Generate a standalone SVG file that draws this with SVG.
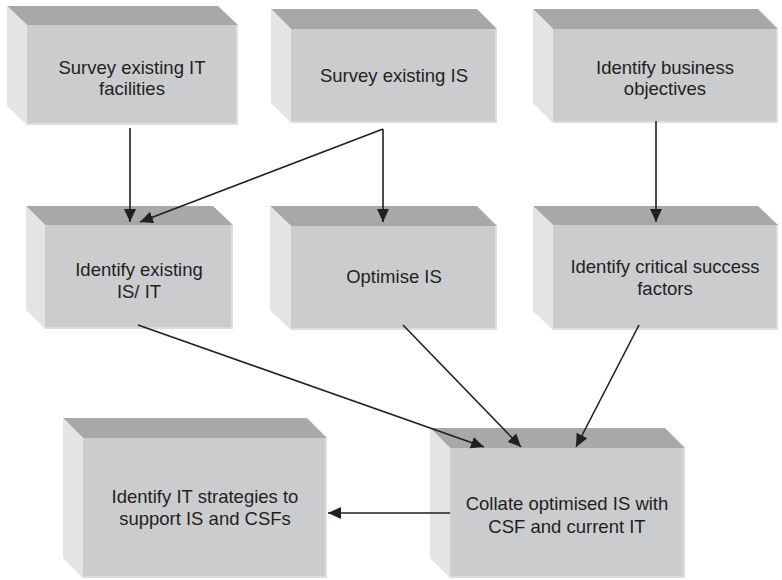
<svg xmlns="http://www.w3.org/2000/svg" width="782" height="580" viewBox="0 0 782 580">
  <defs>
    <marker id="arrow" markerUnits="userSpaceOnUse" markerWidth="14" markerHeight="12" refX="13" refY="6" orient="auto">
      <path d="M0,0 L13,6 L0,12 z" fill="#231f20"/>
    </marker>
  </defs>
  <style>
    .top { fill: #a7a8aa; }
    .side { fill: #e3e4e6; }
    .front { fill: #cbcccd; }
    .edge { fill: none; stroke: #dcdddf; stroke-width: 2; }
    .label { font-family: "Liberation Sans", Arial, sans-serif; font-size: 18.5px; fill: #231f20; text-anchor: middle; }
    .conn { fill: none; stroke: #231f20; stroke-width: 1.6; marker-end: url(#arrow); }
  </style>
  <rect width="782" height="580" fill="#ffffff"/>

  <!-- Row 1 -->
  <g id="survey-it">
    <polygon class="top" points="7,6 218,6 238,25 27,25"/>
    <polygon class="side" points="7,6 27,25 27,125 7,106"/>
    <rect class="front" x="27" y="25" width="211" height="100"/>
    <polyline class="edge" points="237,25 237,124 27,124"/>
    <text class="label" x="132" y="74">Survey existing IT</text>
    <text class="label" x="132" y="95">facilities</text>
  </g>

  <g id="survey-is">
    <polygon class="top" points="271,9 477,9 497,29 291,29"/>
    <polygon class="side" points="271,9 291,29 291,123 271,103"/>
    <rect class="front" x="291" y="29" width="206" height="94"/>
    <polyline class="edge" points="496,29 496,122 291,122"/>
    <text class="label" x="394" y="82">Survey existing IS</text>
  </g>

  <g id="business-objectives">
    <polygon class="top" points="533,9 758,9 778,29 553,29"/>
    <polygon class="side" points="533,9 553,29 553,123 533,103"/>
    <rect class="front" x="553" y="29" width="225" height="94"/>
    <polyline class="edge" points="777,29 777,122 553,122"/>
    <text class="label" x="665" y="74">Identify business</text>
    <text class="label" x="665" y="95">objectives</text>
  </g>

  <!-- Row 2 -->
  <g id="existing-is-it">
    <polygon class="top" points="26,206 213,206 233,225 45,225"/>
    <polygon class="side" points="26,206 45,225 45,329 26,310"/>
    <rect class="front" x="45" y="225" width="188" height="104"/>
    <polyline class="edge" points="232,225 232,328 45,328"/>
    <text class="label" x="139" y="276">Identify existing</text>
    <text class="label" x="139" y="298">IS/ IT</text>
  </g>

  <g id="optimise-is">
    <polygon class="top" points="270,206 477,206 497,226 291,226"/>
    <polygon class="side" points="270,206 291,226 291,330 270,310"/>
    <rect class="front" x="291" y="226" width="206" height="104"/>
    <polyline class="edge" points="496,226 496,329 291,329"/>
    <text class="label" x="394" y="283">Optimise IS</text>
  </g>

  <g id="critical-success-factors">
    <polygon class="top" points="533,206 758,206 778,225 553,225"/>
    <polygon class="side" points="533,206 553,225 553,330 533,311"/>
    <rect class="front" x="553" y="225" width="225" height="105"/>
    <polyline class="edge" points="777,225 777,329 553,329"/>
    <text class="label" x="665" y="273">Identify critical success</text>
    <text class="label" x="665" y="295">factors</text>
  </g>

  <!-- Row 3 -->
  <g id="it-strategies">
    <polygon class="top" points="63,418 307,418 327,438 83,438"/>
    <polygon class="side" points="63,418 83,438 83,578 63,558"/>
    <rect class="front" x="83" y="438" width="244" height="140"/>
    <polyline class="edge" points="326,438 326,577 83,577"/>
    <text class="label" x="205" y="503">Identify IT strategies to</text>
    <text class="label" x="205" y="525">support IS and CSFs</text>
  </g>

  <g id="collate">
    <polygon class="top" points="430,428 665,428 685,448 450,448"/>
    <polygon class="side" points="430,428 450,448 450,578 430,558"/>
    <rect class="front" x="450" y="448" width="235" height="130"/>
    <polyline class="edge" points="684,448 684,577 450,577"/>
    <text class="label" x="567" y="510">Collate optimised IS with</text>
    <text class="label" x="567" y="533">CSF and current IT</text>
  </g>

  <!-- Connectors -->
  <g id="connectors">
    <line class="conn" x1="130" y1="128" x2="130" y2="222"/>
    <line class="conn" x1="383" y1="129" x2="140" y2="222"/>
    <line class="conn" x1="383" y1="129" x2="383" y2="222"/>
    <line class="conn" x1="656" y1="121" x2="656" y2="222"/>
    <line class="conn" x1="138" y1="325" x2="484" y2="447"/>
    <line class="conn" x1="403" y1="325" x2="521" y2="447"/>
    <line class="conn" x1="639" y1="325" x2="576" y2="447"/>
    <line class="conn" x1="450" y1="513" x2="328" y2="513"/>
  </g>
</svg>
